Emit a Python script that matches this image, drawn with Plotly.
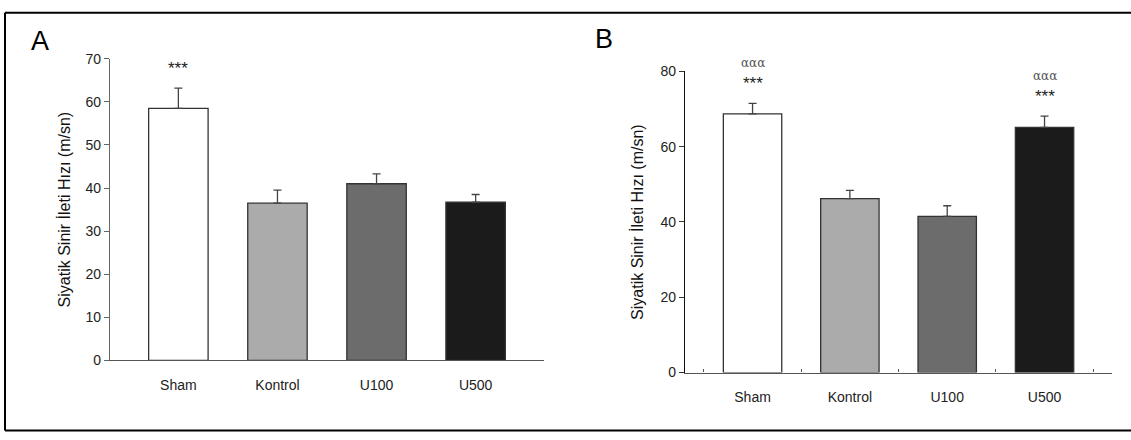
import plotly.graph_objects as go

groups = ["Sham", "Kontrol", "U100", "U500"]
colors = ["#ffffff", "#ababab", "#6c6c6c", "#1b1b1b"]

a_values = [58.5, 36.5, 41.0, 36.7]
a_errors = [4.7, 3.0, 2.3, 1.8]
a_stars = ["***", "", "", ""]

b_values = [68.7, 46.2, 41.5, 65.1]
b_errors = [2.8, 2.2, 2.8, 3.0]
b_stars = ["***", "", "", "***"]
b_alpha = ["ααα", "", "", "ααα"]

ytitle = "Siyatik Sinir İleti Hızı (m/sn)"

W, H = 1131, 440
FONT = "Liberation Sans, Arial, sans-serif"

def px_x(p):
    return p / W

def px_y(p):
    return 1 - p / H

fig = go.Figure()

for vals, errs, xa, ya in [(a_values, a_errors, "x", "y"), (b_values, b_errors, "x2", "y2")]:
    fig.add_trace(go.Bar(
        x=groups, y=vals, width=0.6,
        marker=dict(color=colors, line=dict(color="#333333", width=1.3)),
        error_y=dict(type="data", symmetric=False, array=errs,
                     arrayminus=[0] * len(errs), color="#444444",
                     thickness=1.3, width=4),
        xaxis=xa, yaxis=ya, showlegend=False, hoverinfo="skip",
    ))

axis_common = dict(showgrid=False, zeroline=False, showline=True,
                   tickfont=dict(family=FONT, size=14, color="#222222"))

fig.update_layout(
    width=W, height=H,
    margin=dict(l=0, r=0, t=0, b=0),
    paper_bgcolor="white", plot_bgcolor="white",
    bargap=0.4,
    xaxis=dict(domain=[px_x(110), px_x(544)], range=[-0.69, 3.69],
               type="category", ticks="", linecolor="#555555", linewidth=1.2,
               ticklabelstandoff=12, anchor="y", **axis_common),
    yaxis=dict(domain=[px_y(365.7), px_y(52.7)], range=[0, 70], dtick=10,
               ticks="outside", ticklen=5, tickcolor="#666666",
               linecolor="#666666", linewidth=1.2, anchor="x", **axis_common),
    xaxis2=dict(domain=[px_x(685), px_x(1111.7)], range=[-0.694, 3.69],
                type="category", ticks="inside", ticklen=3, tickson="boundaries",
                tickcolor="#555555", linecolor="#555555", linewidth=1.2,
                ticklabelstandoff=12, anchor="y2", **axis_common),
    yaxis2=dict(domain=[px_y(378.3), px_y(65.7)], range=[0, 80], dtick=20,
                ticks="outside", ticklen=5, tickcolor="#333333",
                linecolor="#111111", linewidth=1.2, anchor="x2", **axis_common),
)

ann = []
for i, g in enumerate(groups):
    if a_stars[i]:
        ann.append(dict(x=g, y=a_values[i] + a_errors[i], xref="x", yref="y",
                        text=a_stars[i], showarrow=False, yshift=20,
                        font=dict(family=FONT, size=17, color="#222222")))
    if b_stars[i]:
        ann.append(dict(x=g, y=b_values[i] + b_errors[i], xref="x2", yref="y2",
                        text=b_stars[i], showarrow=False, yshift=20,
                        font=dict(family=FONT, size=17, color="#222222")))
    if b_alpha[i]:
        ann.append(dict(x=g, y=b_values[i] + b_errors[i], xref="x2", yref="y2",
                        text=b_alpha[i], showarrow=False, yshift=40,
                        font=dict(family="DejaVu Serif, serif", size=12, color="#555555")))

# axis titles
ann.append(dict(x=px_x(64), y=px_y(209), xref="paper", yref="paper", text=ytitle,
                textangle=-90, showarrow=False, xanchor="center", yanchor="middle",
                font=dict(family=FONT, size=16, color="#111111")))
ann.append(dict(x=px_x(637), y=px_y(222), xref="paper", yref="paper", text=ytitle,
                textangle=-90, showarrow=False, xanchor="center", yanchor="middle",
                font=dict(family=FONT, size=16, color="#111111")))
# panel letters
ann.append(dict(x=px_x(40), y=px_y(34), xref="paper", yref="paper", text="A",
                showarrow=False, xanchor="center", yanchor="middle",
                font=dict(family=FONT, size=27, color="#000000")))
ann.append(dict(x=px_x(604), y=px_y(32), xref="paper", yref="paper", text="B",
                showarrow=False, xanchor="center", yanchor="middle",
                font=dict(family=FONT, size=27, color="#000000")))
fig.update_layout(annotations=ann)

# frame (top, left, bottom)
shapes = [
    dict(type="line", xref="paper", yref="paper", x0=px_x(5), x1=1.0, y0=px_y(5), y1=px_y(5),
         line=dict(color="black", width=2)),
    dict(type="line", xref="paper", yref="paper", x0=px_x(5), x1=px_x(5), y0=px_y(5), y1=px_y(438.5),
         line=dict(color="black", width=2)),
    dict(type="line", xref="paper", yref="paper", x0=px_x(5), x1=1.0, y0=px_y(438.5), y1=px_y(438.5),
         line=dict(color="black", width=2)),
]
fig.update_layout(shapes=shapes)

fig.write_html("out.html", config={"displayModeBar": False},
               post_script="document.body.style.margin='0';document.body.style.padding='0';")
